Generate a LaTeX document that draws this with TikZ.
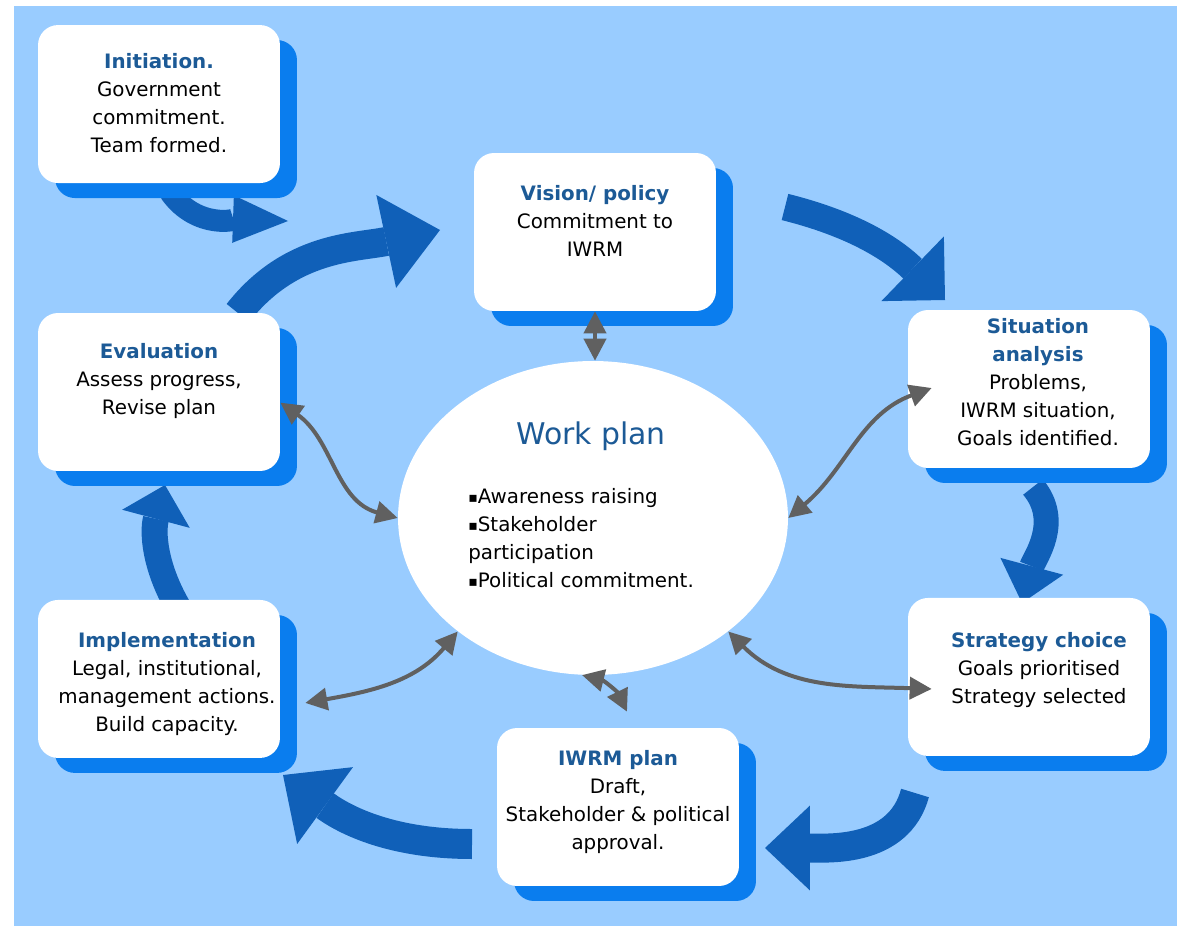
\documentclass[tikz,border=0pt]{standalone}
\usepackage{fontspec}
\setmainfont{DejaVu Sans}
\usetikzlibrary{positioning, shapes.geometric, shadows, arrows.meta, calc}

\definecolor{skyback}{HTML}{99CCFF}
\definecolor{loopblue}{HTML}{1060B8}
\definecolor{shadeblue}{HTML}{0A7DEE}
\definecolor{headblue}{HTML}{1C5A96}
\definecolor{linkgrey}{HTML}{606060}

\tikzset{
  stage/.style={fill=white, rounded corners=0.4cm, minimum width=4.84cm, minimum height=3.16cm,
    drop shadow={shadow xshift=0.34cm, shadow yshift=-0.3cm, fill=shadeblue, opacity=1}},
  stagetext/.style={inner sep=0pt, align=center, font=\fontsize{11.3}{16}\selectfont},
  bigarrow/.style n args={3}{draw=loopblue, line width=#1, -{Triangle[width=#2, length=#3, line width=0pt]}},
  link/.style={draw=linkgrey, line width=0.08cm,
    {Triangle[width=0.44cm, length=0.44cm]}-{Triangle[width=0.44cm, length=0.44cm]}}
}
\newcommand{\stagehead}[1]{{\bfseries\color{headblue}#1}}
\newcommand{\workbullet}{\raisebox{0.6pt}{\fontsize{8}{8}\selectfont▪}}

\begin{document}
\begin{tikzpicture}[x=0.02cm, y=0.02cm]
        \useasboundingbox (0,0) rectangle (1177,-926);
        \fill[white] (0,0) rectangle (1177,-926);
        \fill[skyback] (14,-6) rectangle (1177,-926);

        % ends of the cycle arrows
        \coordinate (ini-out) at (170,-192);
        \coordinate (vis-in-a) at (288,-221);
        \coordinate (eva-out) at (238,-313);
        \coordinate (vis-in) at (440,-230);
        \coordinate (vis-out) at (785,-207);
        \coordinate (sit-in) at (945,-300);
        \coordinate (sit-out) at (1033,-487);
        \coordinate (str-in) at (1022,-603);
        \coordinate (str-out) at (915,-793);
        \coordinate (iwrm-in) at (765,-848);
        \coordinate (iwrm-out) at (472,-844);
        \coordinate (imp-in) at (283,-775);
        \coordinate (imp-out) at (178,-607);
        \coordinate (eva-in) at (165,-485);

        \draw[bigarrow={0.44cm}{0.95cm}{1.1cm}] (ini-out) to[out=-55, in=178] (vis-in-a);
        \draw[bigarrow={0.58cm}{1.9cm}{1.1cm}] (eva-out) to[out=52, in=192] (vis-in);
        \draw[bigarrow={0.54cm}{1.8cm}{0.9cm}] (vis-out) to[out=-14, in=136] (sit-in);
        \draw[bigarrow={0.5cm}{1.3cm}{0.76cm}] (sit-out) to[out=-50, in=75] (str-in);
        \draw[bigarrow={0.58cm}{1.7cm}{0.9cm}] (str-out) to[out=-105, in=0] (iwrm-in);
        \draw[bigarrow={0.6cm}{1.9cm}{1.04cm}] (iwrm-out) to[out=180, in=-36] (imp-in);
        \draw[bigarrow={0.52cm}{1.4cm}{0.7cm}] (imp-out) to[out=120, in=-105] (eva-in);

        % stages
        \node[stage] (eva) at (159,-392) {};
        \node[stage, on grid] (ini) [above=5.76cm of eva] {};
        \node[stage, on grid] (imp) [below=5.74cm of eva] {};
        \node[stage] (vis) at (595,-232) {};
        \node[stage] (sit) at (1029,-389) {};
        \node[stage, on grid] (str) [below=5.76cm of sit] {};
        \node[stage] (iwrm) at (618,-807) {};

        \node[stagetext, below=0.56cm of ini.north] (initxt)
            {\stagehead{Initiation.}\\Government\\commitment.\\Team formed.};
        \node[stagetext, below=0.64cm of vis.north] (vistxt)
            {\stagehead{Vision/ policy}\\Commitment to\\IWRM};
        \node[stagetext, below=0.16cm of sit.north, xshift=0.18cm] (sittxt)
            {\stagehead{Situation}\\\stagehead{analysis}\\Problems,\\IWRM situation,\\Goals identified.};
        \node[stagetext, below=0.68cm of str.north, xshift=0.2cm] (strtxt)
            {\stagehead{Strategy choice}\\Goals prioritised\\Strategy selected};
        \node[stagetext, below=0.44cm of iwrm.north] (iwrmtxt)
            {\stagehead{IWRM plan}\\Draft,\\Stakeholder \& political\\approval.};
        \node[stagetext, below=0.64cm of imp.north, xshift=0.16cm] (imptxt)
            {\stagehead{Implementation}\\Legal, institutional,\\management actions.\\Build capacity.};
        \node[stagetext, below=0.6cm of eva.north] (evatxt)
            {\stagehead{Evaluation}\\Assess progress,\\Revise plan};

        % work plan in the middle
        \node[ellipse, fill=white, inner sep=0pt, minimum width=7.8cm, minimum height=6.28cm] (work) at (593,-518) {};
        \node[text=headblue, font=\fontsize{17}{20}\selectfont] (worktitle) at (591,-436) {Work plan};
        \node[stagetext, align=left, anchor=north west] (worklist) at (468,-488)
            {\workbullet Awareness raising\\\workbullet Stakeholder\\participation\\\workbullet Political commitment.};

        % links to the work plan
        \draw[link] (vis.south) -- (vis.south |- work.north);
        \draw[link] (eva.-5) to[out=-35, in=165] (work.west);
        \draw[link] (work.east) to[out=40, in=200] ($(sit.west)+(24,1)$);
        \draw[link] (work.-40) to[out=-45, in=178] ($(str.west)+(24,-12)$);
        \draw[link] ($(imp.east)+(25,-24)$) to[out=10, in=230] (work.220);
        \draw[link] (work.266) to[bend left=25] ($(iwrm.north)+(9,16)$);
\end{tikzpicture}
\end{document}
